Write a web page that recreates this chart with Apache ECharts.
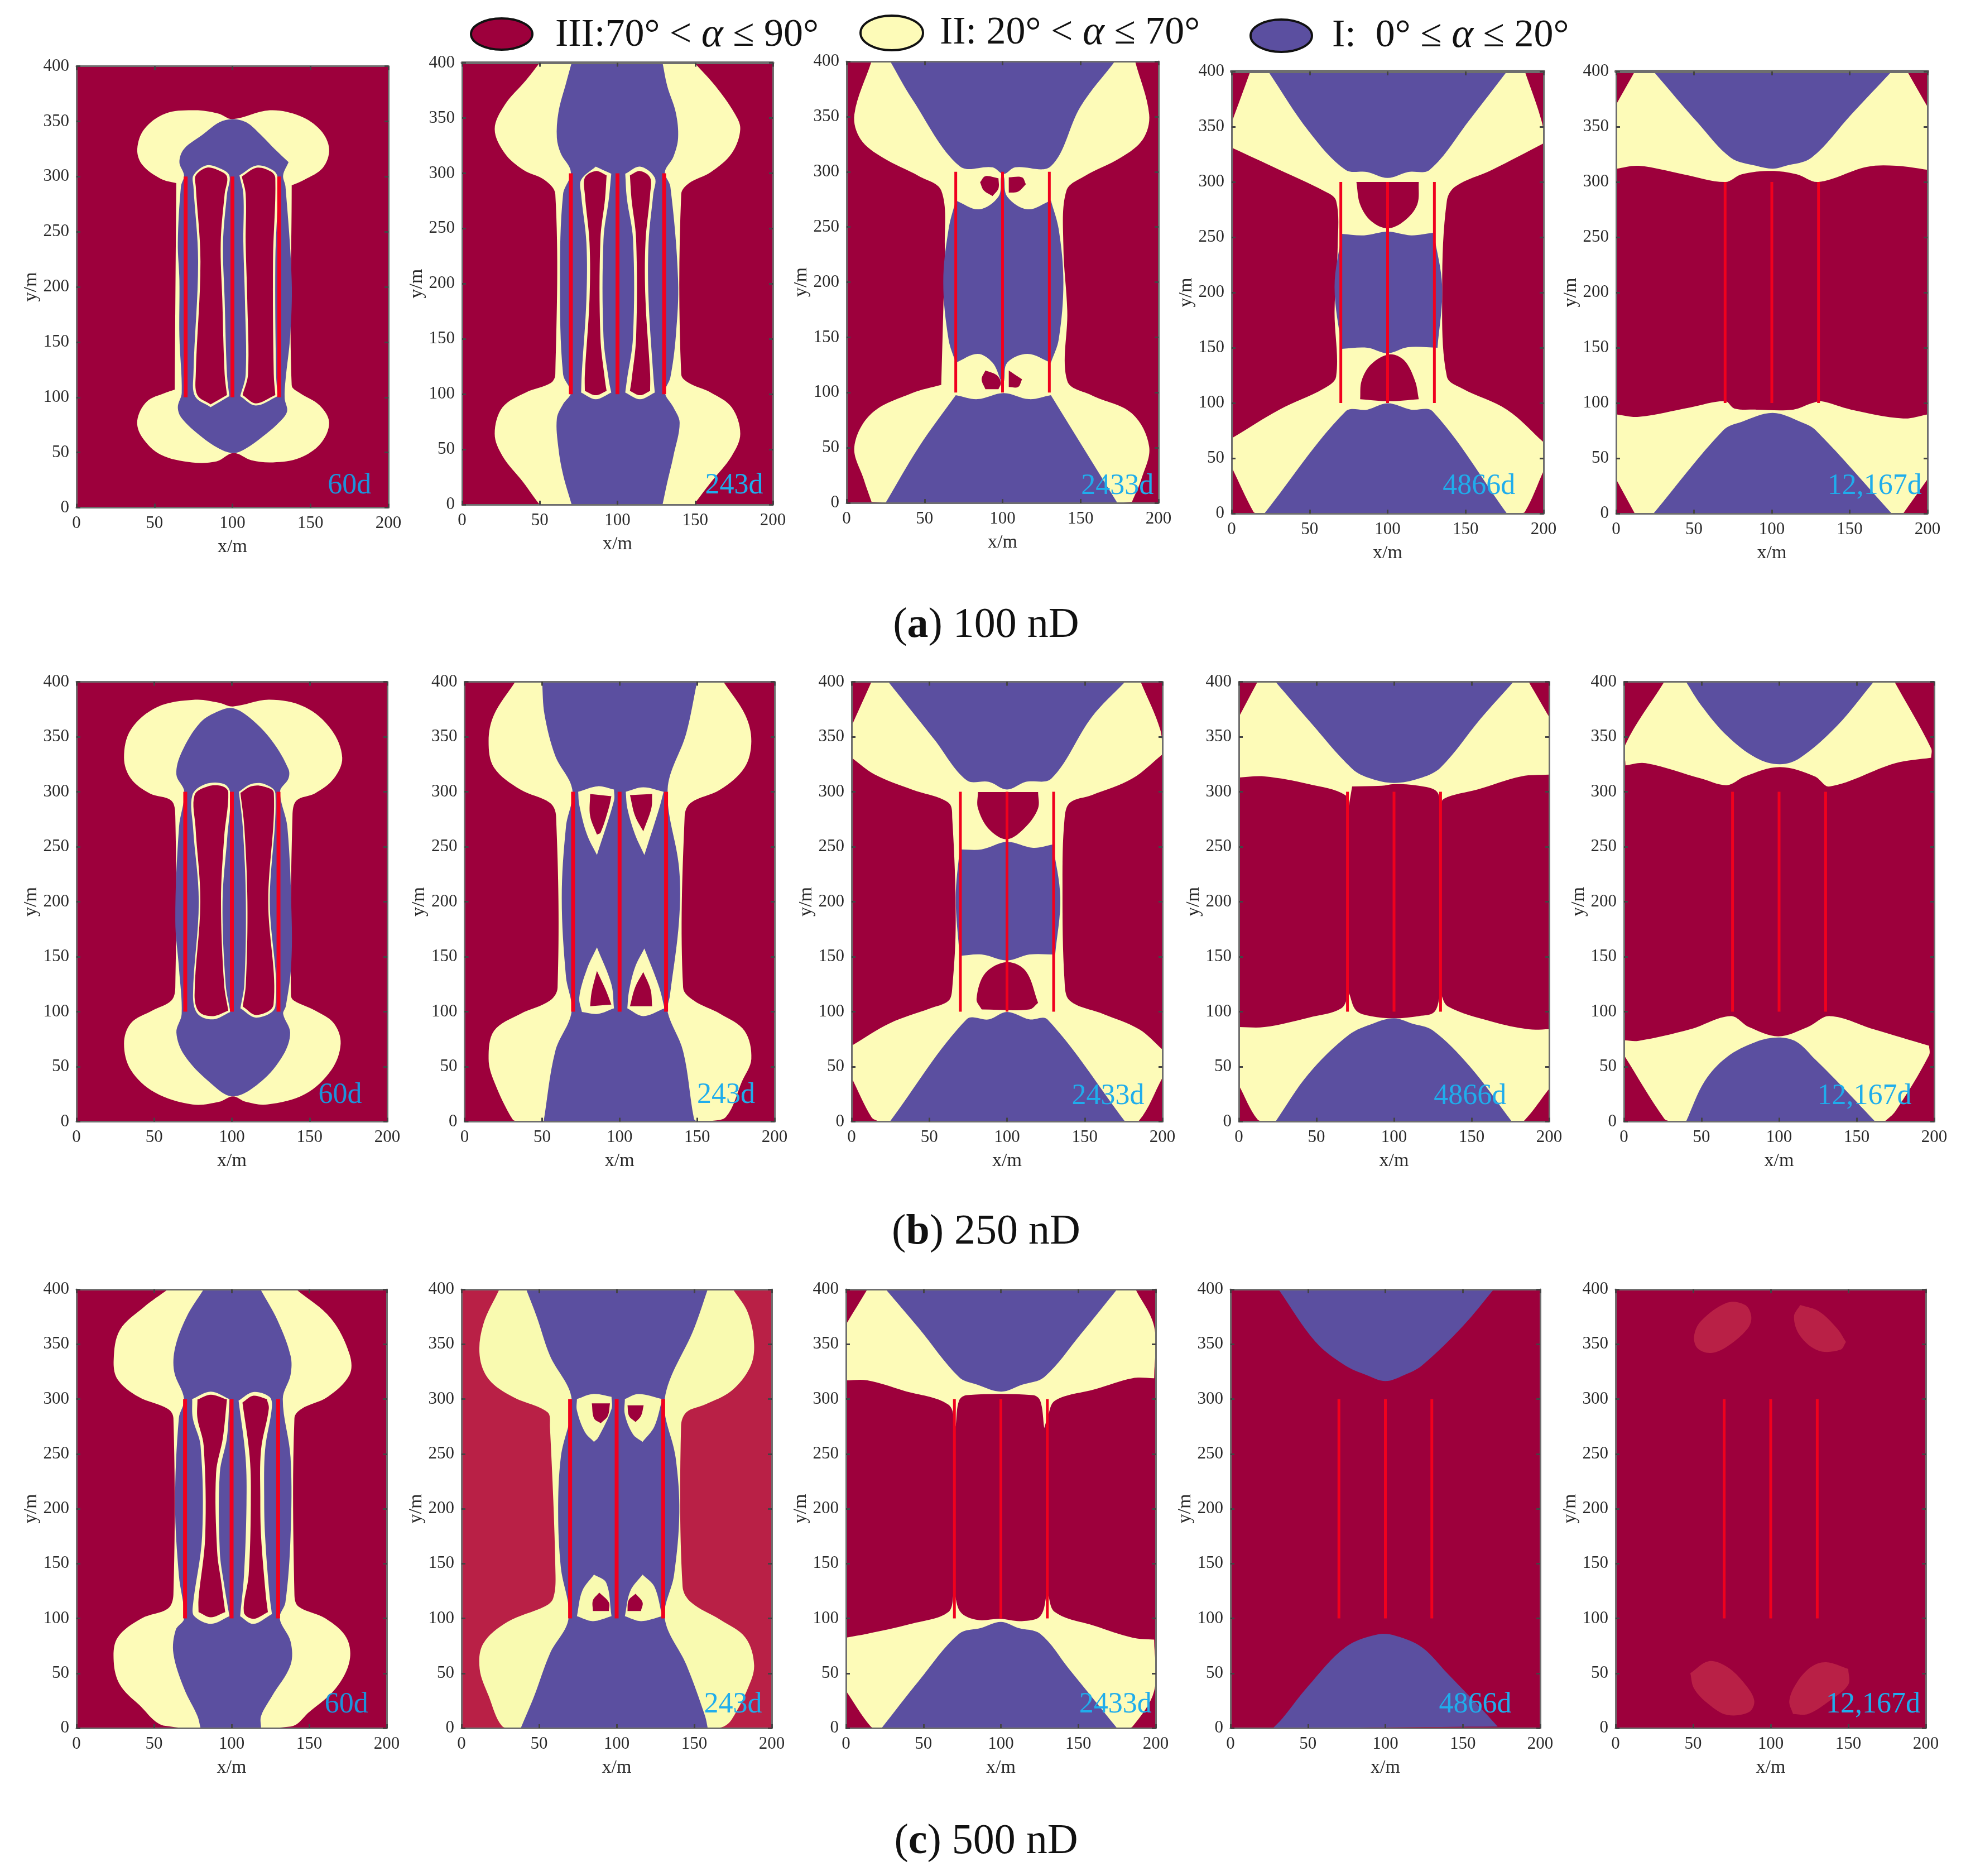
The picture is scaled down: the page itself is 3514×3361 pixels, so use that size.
<!DOCTYPE html>
<html>
<head>
<meta charset="utf-8">
<style>html,body{margin:0;padding:0;background:#fff}</style>
<script src="https://cdn.jsdelivr.net/npm/echarts@6/dist/echarts.min.js"></script>
</head>
<body>
<div id="main" style="width:3514px;height:3361px"></div>
<script>
var dayLabels = ['60d', '243d', '2433d', '4866d', '12,167d'];
var rowTitles = ['a', 'b', 'c'];
var rowPerm = [' 100 nD', ' 250 nD', ' 500 nD'];
var fractureX = [70, 100, 130];
var fractureY = [100, 300];

var a1 = [
  ['II', [[100,352],[124,360],[143,355],[156.5,342],[162,325],[158,308],[146,297],[138,292],[138,111],[143,104],[156,92.5],[162,77],[156.5,58],[143,45],[126,41],[112,43],[100.7,49.5],[90,42],[74,41],[54,48],[42,64],[39,79],[45,96],[57,104],[63,107],[64,294],[54,298],[42,311],[39,325],[43.5,343],[57,357],[76,360],[91,357]]],
  ['I', [[100,352],[109,349],[118,338],[127,325],[136,313],[132.5,301],[134,291],[138,206],[137,155],[134,115],[133.5,99],[135,87],[129,76],[119,64],[108.5,53.5],[100.7,49.5],[91.5,53.5],[79.5,65],[67.5,81],[65,91],[67.5,104],[66,155],[66,206],[65,240],[67,291],[69,301],[66,313],[69,325],[81,338],[91.5,349]]],
  ['II', [[75,301],[83,310],[91,308],[98,301],[96.5,284],[94,240],[95,189],[96.5,121],[98,101],[86,91],[76,101],[75,121],[78,223],[75,291]]],
  ['II', [[104.5,301],[115.5,310],[125.7,306],[129,299],[127.5,223],[128,121],[129,101],[115,92.5],[105,101],[108.5,121],[108,189],[107,240],[107,284]]],
  ['III', [[76.5,301],[83.5,308],[90.5,306],[96.5,300],[95,284],[92.5,240],[93.5,189],[95,121],[96.5,102],[86,93.5],[77.5,102],[76.5,121],[79.5,223],[76.5,291]]],
  ['III', [[106,300],[115.5,308],[124.7,304.5],[127.5,298.5],[126,223],[126.5,121],[127.5,102],[115,94.5],[106.5,102],[110,121],[109.5,189],[108.5,240],[108.5,284]]]
];
var a2 = [
  ['II', [[50,400],[149.5,400],[163,379],[175,355],[179,340],[173.5,318],[160,301],[146,291],[141,281],[141,118],[146,110],[160,101.5],[173.5,88],[179,64],[173.5,44],[160,20],[151,3.4],[149.5,0],[50,0],[48,3.4],[39.5,20],[26,44],[21,64],[26,88],[41,101.5],[57,110],[60,118],[60,281],[53,294],[39.5,303],[27.5,318],[21,340],[27.5,362],[41,384]]],
  ['I', [[70.5,400],[129,400],[132,379],[137.5,355],[139,332],[136,315],[130.5,301],[134,288],[139,203],[137.5,152],[134,115],[130.5,101.5],[136,88],[140,74],[136,44],[132,20],[129,0],[70.5,0],[65,27],[62,51],[61,78],[65,91],[70,101.5],[65,118],[63,203],[65,281],[70,301],[63.5,318],[61,332],[62,355],[67,382]]],
  ['II', [[76.6,294],[86,306],[96,299.5],[94.5,277.5],[91,240],[91,152],[94.5,112],[96,101.5],[86,95.4],[76.6,101.5],[77,118],[80,186],[80,237],[76.6,281]]],
  ['II', [[105,299.5],[114.5,306],[124,296],[123,281],[120,237],[120,186],[123,118],[124,101.5],[114.5,95.4],[105,101.5],[106,112],[110,152],[110,240],[106,277.5]]],
  ['III', [[79,296],[86,302],[93,298],[92,277],[89,240],[89,152],[92,112],[93,103],[86,99],[79,103],[79,118],[82,186],[82,237],[79,281]]],
  ['III', [[108,298],[114.5,302],[121,296],[121,281],[118,237],[118,186],[121,118],[121,103],[114.5,99],[108,103],[109,112],[112,152],[112,240],[109,277]]]
];
var a3 = [
  ['II', [[16,400],[185,400],[194,352],[190,329.5],[176,313],[152.5,296],[141,283],[139,233],[141.5,174],[141.5,110.5],[157,97.6],[183,81],[194,51],[189,21.5],[183,1],[172,0],[30,0],[16,1],[11,21.5],[5,51],[16,81],[42,99.5],[60.7,107],[62,174],[63,233],[60.7,283],[46.5,296],[23,313],[9,329.5],[5,352]]],
  ['I', [[28,400],[172,400],[150,359],[131,305],[108,304],[100.7,298],[93.6,304],[72.5,305],[42,366]]],
  ['I', [[25,0],[173.6,0],[131,97.6],[117,94],[100.7,99.5],[84,94],[70,97.6],[46.5,51]]],
  ['I', [[70,274],[85,266],[97.4,277.5],[99,295],[101,295],[103,277.5],[116,266],[131,274],[136,248],[139,200],[136,148],[131,127],[116,135],[103,127],[101,110.6],[99,110.6],[93.6,127],[84,135],[70,127],[65.4,148],[62,200],[65.4,248]]],
  ['III', [[89,296],[97.4,294],[97.4,285],[93.6,278],[88,283],[85.6,290.5]]],
  ['III', [[104,295],[112.5,295],[115,288.7],[110,282],[104,281]]],
  ['III', [[89,120],[96,116],[99,109],[97.4,103],[89,103],[86.6,112]]],
  ['III', [[104,120],[112.5,112],[110,105],[104,105]]]
];
var a4 = [
  ['II', [[12,400],[188,400],[199,353.6],[200,335],[167,311],[143.5,296],[138,283],[135,205],[138,124],[148,113],[176.5,94],[200,64.5],[200,38.5],[188,1.5],[183.5,0],[16.5,0],[14,1.5],[0,42],[0,68],[30.6,94],[59,113],[67,124],[66,183],[68,242],[67,283],[59,292],[30.6,311],[0,331],[0,353.6]]],
  ['I', [[23.5,400],[176.5,400],[153,357],[127,311],[113,309],[100,303.6],[87,309],[73,311],[49.4,346]]],
  ['I', [[21,0],[176.5,0],[129,92.3],[115,94],[100,99.7],[87,94],[73,92.3]]],
  ['I', [[70.6,253],[85,251.7],[100,255],[115,251.7],[129.5,254],[135,205],[132,150],[113,150.5],[100,145],[87,150],[70.6,149],[66,205]]],
  ['III', [[80,300],[120,300],[119,279.5],[110.6,264.6],[100,258],[89.4,264.6],[82.4,279.5]]],
  ['III', [[101,144],[110.6,138.6],[117.6,120],[120,103.4],[101,101.6],[82.4,103.4],[83.3,120],[89.4,135]]]
];
var a5 = [
  ['II', [[12,400],[187,400],[200,368],[200,311],[180,314.6],[161,313.6],[130,300],[116,307],[99.5,310],[80.7,307],[70,300],[43,307],[14.6,314.6],[0,312],[0,370]]],
  ['II', [[0,89.7],[14.6,87.5],[47.6,96],[70,101.6],[76,95],[90,94],[113.7,94],[125.5,99.7],[131.6,101.6],[151,94],[184.4,86],[200,89.7],[200,31],[184.4,0],[12,0],[0,31]]],
  ['I', [[24,400],[177,400],[151,361],[125.5,322],[109,314.6],[100.5,312],[90,314.6],[73.6,322],[52.4,353.6]]],
  ['I', [[24,0],[177,0],[128,75.6],[118.4,83],[100.5,91],[80.7,83],[69,75.6]]]
];
var b1 = [
  ['II', [[100.7,377.6],[124,383.7],[147,377],[164,356.5],[171,331],[165.6,312],[153.6,298.6],[141.6,292],[139,278],[138,115],[140,110],[153.6,101],[165.6,89.5],[170,71],[164,47],[147,25],[122.7,15.6],[109,18],[100.7,23],[91.7,18],[74.6,15.6],[50.5,26.5],[35,47],[30.6,71],[35,89.5],[48.8,101],[61,110],[63.6,122],[63.6,278],[61,292],[47,298.6],[35,312],[30.6,331],[35,356.5],[52,377],[76.3,383.7],[91.7,381]]],
  ['I', [[100.7,376],[112,366.7],[126,346],[136.4,320.7],[136.4,312],[131,300],[135.7,268],[138.5,183],[138,139],[134.7,105],[133,98],[137.5,81],[133,60.5],[119,36.7],[100.7,23],[85,36.7],[69.4,60.5],[64.3,81],[67.7,98],[66,139],[63.6,183],[66,268],[69.4,300],[64.3,315.6],[67.7,336],[79.7,363],[91.7,373.5]]],
  ['II', [[74.6,297],[83,307],[95,307],[99,298.6],[97,258],[94,200],[96,125],[99,99.7],[88,93],[78,98],[75,115],[78.7,200],[75,268]]],
  ['II', [[104.5,300],[112.4,307],[121,307],[128,298.6],[124.4,200],[128,105],[115.8,94.6],[105.5,103],[108,125],[109,200],[107,268]]],
  ['III', [[76,297],[84.7,305],[94,305],[97.7,299.5],[95,258],[93,200],[95,125],[97.7,101],[88,96],[79,99.7],[76,115],[79.7,200],[76.6,268]]],
  ['III', [[105.5,299],[112.4,305],[120,305],[127,299],[123.4,200],[126.8,106.5],[115.8,97],[107,104.7],[109,125],[110,200],[108,268]]]
];
var b2 = [
  ['II', [[32.7,400],[167,400],[181,370],[185,346],[180.6,322],[165,302],[146,290],[142,278],[141,122],[148,110],[165,98],[180.6,82.6],[185,57],[179,36.7],[168.7,4.4],[156.6,0],[35,0],[31,2],[19,36.7],[15.5,57],[19,82.6],[36,98],[55,110],[60,122],[59,278],[55,290],[36,302],[19,322],[15.5,346],[19,370]]],
  ['I', [[50,400],[150,400],[143,353],[131,302],[138.4,230.6],[138.4,183],[132.5,115],[131,99.7],[141,64],[148,2.7],[150,0],[51,0],[58.5,64],[69,99.7],[65.4,132],[62.7,203],[65.4,268],[69.5,302],[58.5,332.6],[51.6,370]]],
  ['II', [[73.3,300],[86,305],[96.4,302],[96.4,292],[85.4,242.5],[79,261],[74,288]]],
  ['II', [[104,300],[115.3,304],[128.4,300],[125.6,285],[116,242.5],[110,261],[105,285]]],
  ['II', [[85.4,158.5],[94.7,125],[96.4,103],[86,98],[75.7,99.7],[74,113],[79,139]]],
  ['II', [[116,157.5],[125.6,122],[129,103],[115.3,96],[105,103],[106,118],[110,140.5]]],
  ['III', [[81,298],[94.7,296],[93,285],[87.8,263],[85.4,261],[81,278]]],
  ['III', [[106.7,297],[121,298],[120.5,285],[115.3,264],[110,278]]],
  ['III', [[85.4,137],[91,120],[94.7,106.5],[81,105],[82,118]]],
  ['III', [[115.3,136],[120,120],[121,105],[106.7,105],[110,122]]]
];
var b3 = [
  ['II', [[12.8,400],[186,400],[198.6,356.5],[200,334],[180.6,312],[154.6,297],[140.4,290],[137,275],[135.7,217],[137,128.6],[140.4,110],[161.7,98],[185,84],[200,65.6],[200,40],[185,1],[176,0],[17.5,0],[12.8,4],[0,40],[0,69],[24.6,89.5],[50.6,103],[62.4,110],[64.8,122],[67,183],[64.8,275],[62.4,290],[38.8,302],[15,315.6],[0,331],[0,359.8]]],
  ['I', [[23.6,400],[176,400],[154.6,368],[128.6,312],[112,309],[100,302],[88.4,309],[74,310.5],[53,348]]],
  ['I', [[24.6,0],[176,0],[126,93],[114.4,93],[100,99.7],[88.4,93],[74,93]]],
  ['I', [[69.5,247.6],[83.7,247.6],[100,254.4],[116.8,249],[129.5,252],[134.3,203.4],[131,152],[114.4,152],[100,146.6],[83.7,152],[69.5,150.7],[67,203.4]]],
  ['III', [[81.3,299.7],[120,299.7],[120,285],[112,268],[100,256.8],[88.4,266],[81.3,285]]],
  ['III', [[100,145],[112,137],[120,108],[114.4,102],[83.7,102],[80.4,111.6],[86,135]]]
];
var b4 = [
  ['II', [[12,400],[186.8,400],[200,368],[200,315.6],[182,314],[153.7,302],[132,293.5],[130,284],[127.7,300],[116,305.4],[100,307],[92,305.4],[73,304.8],[70.5,284],[68.6,297],[45,307],[16.5,314],[0,313],[0,368]]],
  ['II', [[0,86],[16.5,86],[45,94.6],[66,103],[71,116.7],[75.6,101],[85,96],[100,94],[116,96],[126,99.7],[130,116.7],[134.7,104.8],[163,91],[186.8,84],[200,84],[200,30],[184,1],[180,0],[19,0],[12,2],[0,33]]],
  ['I', [[23.6,400],[177,400],[156,366.7],[130,322],[116,312],[100,308],[85,312],[73,321],[45,365]]],
  ['I', [[23.6,0],[176,0],[149,50],[125,83],[111,89.5],[100,94],[87,89.5],[71,79],[45,43.5]]]
];
var b5 = [
  ['II', [[26,400],[174.4,400],[198,339.5],[198,331],[175,326],[132.7,304.8],[123,314],[100.5,322.4],[78,314],[66.4,306],[49.8,312],[14,326],[1,324],[1,343]]],
  ['II', [[0,74],[9.5,73.5],[42.7,84],[68.7,96],[80.6,86],[99.5,77.6],[118.5,86],[132.7,96],[161,84],[196.7,69],[196.7,60.5],[175,9.5],[168,0],[31,0],[26,2.7],[0,60.5]]],
  ['I', [[40,400],[161,400],[137.4,360],[113.7,331],[100.5,325],[85,331],[66.4,351],[49.8,378.6]]],
  ['I', [[40,0],[162,0],[137.4,36.7],[123,57],[111.4,72.5],[99.5,76.5],[85,72.5],[66.4,58.8],[52,36.7]]]
];
var c1 = [
  ['II', [[59,400],[141.6,400],[164,373.6],[176,341],[176,322],[162,302],[145,291],[140.5,282.5],[140.5,122],[143,111],[160.5,100],[174,82.5],[176,61],[167,36],[150,14.6],[138,1.4],[57.4,2],[40,21.8],[28,39.6],[24,61],[26.5,82.5],[42,100],[59,109],[62.5,122],[62.5,282.5],[59,291],[40,302],[26.5,318],[24,336],[28,363],[43.6,384]]],
  ['I', [[82,400],[118.6,400],[129.6,371.8],[138,339.6],[138,322],[133,300],[138,246.8],[138,175],[134.7,114.6],[131,100],[138,79],[138,57.5],[126,29],[119,11],[119,0],[80,0],[78,11],[69.4,36],[62.5,68],[64,89.6],[69.4,100],[66,139.6],[63.6,204],[66,282.5],[69.4,300],[63,325],[63.6,346.8],[71,375]]],
  ['II', [[74.6,300],[86.6,306.8],[98.6,300],[97,264.6],[92.4,232.5],[92.4,161],[95,132.5],[98.6,102],[86.6,95],[76,102],[75,111],[81,175],[80,257.5],[75,282.5]]],
  ['II', [[104.5,298.6],[114,306.4],[124.4,302],[126,293],[121.6,254],[121,211],[121.6,175],[124.4,122],[126,104],[114,95],[105.5,102],[108,139.6],[109.6,204],[109,246.8]]],
  ['III', [[78,299.6],[86.6,304],[97,299.6],[94.4,264.6],[90,232.5],[90.7,161],[93.4,132.5],[95.9,105.7],[86.6,101],[78.7,105.7],[78.7,118],[83,175],[82,257.5],[78,282.5]]],
  ['III', [[107,296.8],[114,303],[122.7,300],[124,291.4],[119,254],[118.5,211],[119,175],[122,122],[123.4,105.7],[114,99.6],[107.9,105.7],[111,139.6],[112.4,204],[111.7,246.8]]]
];
var c2 = [
  ['II', [[24.4,400],[175,400],[184.5,379],[188.6,350],[186,329],[174,307.5],[157,295],[145,288],[141.5,275],[142.5,129],[148,114.6],[167,98.6],[183,82.5],[188.6,57.5],[184.5,36],[174,7.5],[169,1.4],[162,0],[34.8,0],[26,2],[17.6,29],[11.7,54],[14,77],[29.6,96.8],[53.7,111],[59,118],[60.6,139.6],[57,275],[55.4,288],[33,302],[17.6,318],[11.7,339.6],[14,368]]],
  ['I', [[41.7,400],[158.7,400],[150,364.6],[131,300],[138,246.8],[140.4,196.8],[137,139.6],[131,100],[145,57.5],[157,11],[158.7,0],[38.2,0],[46.8,29],[57,68],[69,100],[64,146.8],[62.3,196.8],[64,246.8],[71,300],[57,339.6],[48.5,375]]],
  ['II', [[74.4,300],[84.7,304.6],[96.7,302],[96.7,291],[88,264.6],[85.4,261],[79.5,270],[74.4,289.6]]],
  ['II', [[105.3,300],[114,304.6],[129.4,300],[124.3,275],[116.7,261],[110.5,268],[105.3,286]]],
  ['II', [[85.4,140],[93.3,132.5],[96.7,102],[84.7,97.5],[74.4,102],[77.8,125]]],
  ['II', [[116.7,140],[124.3,129],[129.4,102],[115.7,97.5],[105.3,102],[108.8,125]]],
  ['III', [[84,296],[95.7,296],[94.3,284.6],[89.8,278],[85.4,282.5]]],
  ['III', [[107,294.3],[117.4,294.3],[115.7,284.6],[112.2,279],[108,284.6]]],
  ['III', [[88.8,123.6],[95,114.6],[95,106.8],[84.7,106.8],[84.7,116.4]]],
  ['III', [[112.2,122.5],[116.7,114.6],[115.7,106.8],[107,106.8],[107.7,116.4]]]
];
var c3 = [
  ['II', [[13.8,400],[187,400],[199,366],[199,319],[185,319],[161,309],[135,298.6],[130,282.5],[128,273.6],[125.4,298.6],[120.7,303.6],[78,303.6],[73,298.6],[70.8,275],[66,295],[37.5,307.5],[13.8,317],[0,317],[0,368]]],
  ['II', [[0,82.5],[13.8,86],[42,95],[66,105.7],[69.8,125],[74,105.7],[85,98.6],[99.3,99.6],[113.5,97.5],[125.4,102],[130,125],[135,105.7],[161,93],[185,82.5],[199,80.7],[199,34],[185,1.4],[180,0],[21,0],[16,1.4],[0,34]]],
  ['I', [[25.7,400],[175,400],[151.5,359],[128,320],[113.5,313],[100.2,306.8],[85,313],[73,320],[47,364.6]]],
  ['I', [[23,0],[175,0],[144,54],[125.4,86],[111,91.4],[100,96.8],[87.4,91.4],[73,86],[47,43]]]
];
var c4 = [
  ['I', [[31,400],[170,400],[150,366.4],[123.7,330.7],[112,321.8],[100,316.4],[88,321.8],[74,330.7],[55,352]]],
  ['I', [[27.5,0],[172.5,1.4],[164,14.6],[140,50],[123.7,73.6],[107,84],[95,85.4],[74,73.6],[50,38],[33.6,9]]]
];
var c5 = [
  ['IIs', [[72,387.9],[83.6,385.7],[87.5,375],[85,364],[72,348],[61.5,342],[53,346],[50.6,357],[55,371]]],
  ['IIs', [[119,385.7],[131,380],[143,364],[148.5,352],[145,345],[131,344],[119,357.5],[115,375]]],
  ['IIs', [[60,61],[72,55.7],[83.7,39.6],[89.4,25],[86,14.6],[72,12],[60,21.8],[50.6,36],[48.2,50]]],
  ['IIs', [[135.7,60],[150,54],[150,39.6],[138,25],[124,12.8],[114.4,12.8],[112,25],[116.8,41.4],[126,55.7]]]
];
var panels = [a1, a2, a3, a4, a5, b1, b2, b3, b4, b5, c1, c2, c3, c4, c5];
// where the day text sits in each panel, x/m and y/m
var dayAt = [[175,20],[175,17],[173.6,15],[158.6,24.5],[166,24.5],[169.7,24],[168.7,24],[165,23],[149,23],[155,23],[174,21],[175,21],[174,21],[158,21],[166,21]];

var colors = {I: '#5b4fa0', II: '#fdfbb8', III: '#9d003c', IIs: '#b92046'};

// pixel layout of the plot boxes: left, top, width, height
var boxes = [
  [137,118.5,559,791],[828,112.5,557,791.5],[1517,110,559,791],[2207,128,559,792],[2896,128,558,792],
  [137,1221.5,557,788],[832.5,1221.5,555.5,788],[1526,1221.5,557,788],[2220,1221.5,556,788],[2910,1221.5,556,788],
  [137,2310,556,786],[827,2310,556,786],[1516,2310,555,786],[2205,2310,555,786],[2895,2310,556,786]
];
var topLineWidth = [3,5,3,6,6,3,3,3,3,3,3,3,3,3,3];
var serif = '"Liberation Serif"';

var chart = echarts.init(document.getElementById('main'));
var grids = [], xAxes = [], yAxes = [], series = [];

function axisBase(i, pos, labels, extra) {
  var a = {
    type: 'value', gridIndex: i, position: pos, min: 0, z: 5,
    axisLine: {show: true, onZero: false, lineStyle: {color: '#6e6e6e', width: 3}},
    axisTick: {show: true, inside: true, length: 7, lineStyle: {color: '#444', width: 3}},
    splitLine: {show: false},
    axisLabel: {show: labels, margin: 13, color: '#2a2a2a', fontSize: 31, fontFamily: serif}
  };
  return Object.assign(a, extra);
}

// sharp bends and points on the frame stay sharp: a doubled point stops the spline there
function keepCorners(pts, box) {
  var out = [], n = pts.length;
  pts.forEach(function (p, k) {
    var a = pts[(k + n - 1) % n], c = pts[(k + 1) % n];
    var u = [p[0] - a[0], p[1] - a[1]], v = [c[0] - p[0], c[1] - p[1]];
    var cos = (u[0] * v[0] + u[1] * v[1]) / (Math.hypot(u[0], u[1]) * Math.hypot(v[0], v[1]));
    var onFrame = p[0] <= box.x + 1 || p[0] >= box.x + box.width - 1 || p[1] <= box.y + 1 || p[1] >= box.y + box.height - 1;
    out.push(p);
    if (cos < 0.45 || onFrame) out.push(p);
  });
  return out;
}

boxes.forEach(function (b, i) {
  var lineW = i % 5 < 2 ? 7 : 5;
  var panel = panels[i];
  var plotBg = i === 11 ? '#b92046' : '#9d003c';
  grids.push({left: b[0], top: b[1], width: b[2], height: b[3], show: true, backgroundColor: plotBg, borderWidth: 0});

  xAxes.push(axisBase(i, 'bottom', true, {
    max: 200, interval: 50, name: 'x/m', nameLocation: 'middle', nameGap: 54,
    nameTextStyle: {color: '#2a2a2a', fontSize: 34, fontFamily: serif}
  }));
  var topAxis = axisBase(i, 'top', false, {max: 200, interval: 50});
  topAxis.axisLine.lineStyle.width = topLineWidth[i];
  xAxes.push(topAxis);
  yAxes.push(axisBase(i, 'left', true, {
    max: 400, interval: 50, name: 'y/m', nameLocation: 'middle', nameGap: 64, nameRotate: 90,
    nameTextStyle: {color: '#2a2a2a', fontSize: 34, fontFamily: serif}
  }));
  yAxes.push(axisBase(i, 'right', false, {max: 400, interval: 50}));

  series.push({
    type: 'custom', coordinateSystem: 'cartesian2d', xAxisIndex: i * 2, yAxisIndex: i * 2, z: 2,
    silent: true,
    data: panel.map(function (r, k) { return [k]; }),
    renderItem: function (params, api) {
      var r = panel[params.dataIndex];
      var fill = colors[r[0]];
      if (i === 11 && r[0] === 'II') fill = '#f9fab0';
      var box = params.coordSys;
      return {
        type: 'polygon',
        shape: {points: keepCorners(r[1].map(function (c) { return api.coord(c); }), box), smooth: 0.35},
        style: {fill: fill},
        clipPath: {type: 'rect', shape: {x: box.x, y: box.y, width: box.width, height: box.height}}
      };
    }
  });
  fractureX.forEach(function (x) {
    series.push({
      type: 'line', xAxisIndex: i * 2, yAxisIndex: i * 2, z: 3, silent: true, symbol: 'none',
      lineStyle: {color: '#f0001e', width: lineW},
      data: fractureY.map(function (y) { return [x, y]; })
    });
  });
  series.push({
    type: 'custom', coordinateSystem: 'cartesian2d', xAxisIndex: i * 2, yAxisIndex: i * 2, z: 4,
    silent: true,
    data: [dayAt[i]],
    renderItem: function (params, api) {
      var p = api.coord([api.value(0), api.value(1)]);
      return {
        type: 'text', x: p[0], y: p[1],
        style: {text: dayLabels[i % 5], fill: i % 5 === 0 ? '#1c93dc' : '#1fadec', font: '52px ' + serif, textAlign: 'center', textVerticalAlign: 'middle'}
      };
    }
  });
});

var titleCentres = [1118, 2205, 3297];
var titles = rowTitles.map(function (t, k) {
  return {
    text: '{n|(}{b|' + t + '}{n|)' + rowPerm[k] + '}',
    left: 1762, top: titleCentres[k] - 40, textAlign: 'center',
    textStyle: {fontWeight: 'normal', rich: {
      n: {fontFamily: serif, fontSize: 76, fontWeight: 'normal', color: '#111'},
      b: {fontFamily: serif, fontSize: 76, fontWeight: 'bold', color: '#111'}
    }}
  };
});

function legendKey(cx, cy, rx, ry, fill) {
  return {type: 'ellipse', shape: {cx: cx, cy: cy, rx: rx, ry: ry}, style: {fill: fill, stroke: '#111', lineWidth: 4}};
}
function legendText(x, y, rich) {
  return {
    type: 'text', x: x, y: y,
    style: {
      text: rich, textVerticalAlign: 'middle',
      rich: {
        r: {fontFamily: serif, fontSize: 70, fill: '#111', lineHeight: 80},
        i: {fontFamily: serif, fontSize: 74, fontStyle: 'italic', fill: '#111', lineHeight: 80}
      }
    }
  };
}
var graphics = [
  legendKey(899, 61, 55, 28, colors.III),
  legendText(995, 64, '{r|III:70° < }{i|α}{r| ≤ 90°}'),
  legendKey(1598, 59, 56, 31, colors.II),
  legendText(1684, 60, '{r|II: 20° < }{i|α}{r| ≤ 70°}'),
  legendKey(2296, 64, 55, 29, colors.I),
  legendText(2387, 65, '{r|I:  0° ≤ }{i|α}{r| ≤ 20°}')
];

chart.setOption({
  backgroundColor: '#fff',
  animation: false,
  title: titles,
  grid: grids,
  xAxis: xAxes,
  yAxis: yAxes,
  series: series,
  graphic: graphics
});
</script>
</body>
</html>
